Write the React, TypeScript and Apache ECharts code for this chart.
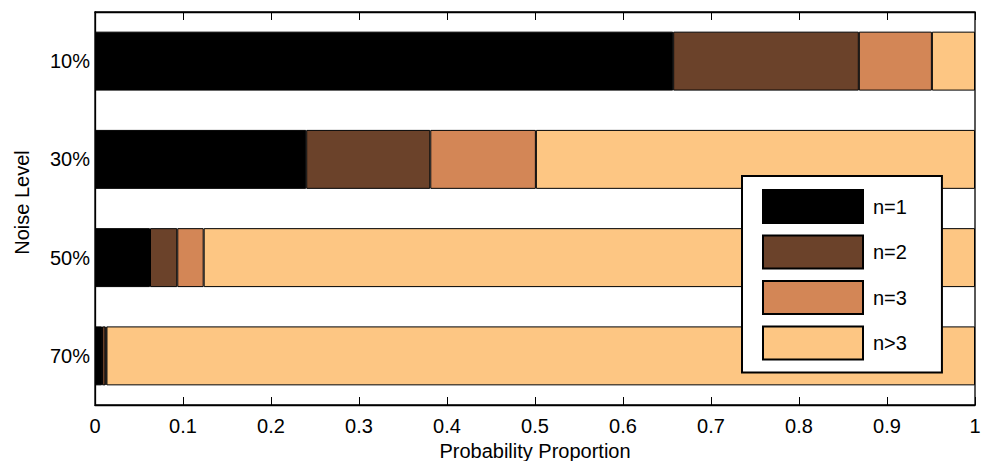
import React, { useEffect, useRef } from "react";
import * as echarts from "echarts";

const categories = ["10%", "30%", "50%", "70%"];
const seriesNames = ["n=1", "n=2", "n=3", "n>3"];
const n1 = [0.657, 0.24, 0.0625, 0.008];
const n2 = [0.211, 0.141, 0.031, 0.004];
const n3 = [0.083, 0.12, 0.03, 0.001];
const nMore = [0.049, 0.499, 0.8765, 0.987];
const colors = ["#000000", "#6b422a", "#d38656", "#fdc683"];
const xTicks = [0, 0.1, 0.2, 0.3, 0.4, 0.5, 0.6, 0.7, 0.8, 0.9, 1];

const FONT = "Liberation Sans, Arial, Helvetica, sans-serif";
const FS = 20;

export default function App() {
  const ref = useRef<HTMLDivElement>(null);
  useEffect(() => {
    if (!ref.current) return;
    const chart = echarts.init(ref.current, null, { renderer: "svg" });
    const data = [n1, n2, n3, nMore];
    chart.setOption({
      animation: false,
      textStyle: { fontFamily: FONT },
      grid: {
        left: 95,
        right: 12,
        top: 12,
        bottom: 56,
        outerBoundsMode: "none",
        containLabel: false,
        show: true,
        borderColor: "#000",
        borderWidth: 1.3,
        backgroundColor: "transparent",
      },
      legend: {
        orient: "vertical",
        left: 742,
        top: 176,
        data: seriesNames,
        itemWidth: 100,
        itemHeight: 33,
        itemGap: 10.5,
        padding: [13, 35, 12, 20],
        borderColor: "#000",
        borderWidth: 2,
        backgroundColor: "#fff",
        icon: "rect",
        textStyle: { fontSize: FS, color: "#000", fontFamily: FONT, padding: [0, 0, 0, 5] },
      },
      xAxis: [
        {
          type: "value",
          min: 0,
          max: 1,
          interval: 0.1,
          position: "bottom",
          name: "Probability Proportion",
          nameLocation: "middle",
          nameGap: 32,
          nameTextStyle: { fontSize: FS, color: "#000", fontFamily: FONT },
          axisLine: { show: true, lineStyle: { color: "#000", width: 1.3 } },
          axisTick: { show: true, inside: true, length: 8, lineStyle: { color: "#000" } },
          axisLabel: {
            fontSize: FS,
            color: "#000",
            margin: 11,
            fontFamily: FONT,
            formatter: (v: number) => {
              const t = xTicks.find((x) => Math.abs(x - v) < 1e-9);
              return t === undefined ? "" : String(t);
            },
          },
          splitLine: { show: false },
        },
        {
          type: "value",
          min: 0,
          max: 1,
          interval: 0.1,
          position: "top",
          axisLine: { show: true, lineStyle: { color: "#000", width: 1.3 } },
          axisTick: { show: true, inside: true, length: 8, lineStyle: { color: "#000" } },
          axisLabel: { show: false },
          splitLine: { show: false },
        },
      ],
      yAxis: {
        type: "category",
        data: categories,
        inverse: true,
        name: "Noise Level",
        nameLocation: "middle",
        nameGap: 63,
        nameTextStyle: {
          fontSize: FS,
          color: "#000",
          fontFamily: FONT,
          padding: [0, 0, 0, 12],
        },
        axisLine: { show: true, lineStyle: { color: "#000", width: 1.3 } },
        axisTick: { show: false },
        axisLabel: { fontSize: FS, color: "#000", margin: 5, fontFamily: FONT },
        splitLine: { show: false },
      },
      series: seriesNames.map((name, i) => ({
        name,
        type: "bar",
        stack: "total",
        barWidth: "60%",
        data: data[i],
        itemStyle: { color: colors[i], borderColor: "#000", borderWidth: 1 },
        emphasis: { disabled: true },
      })),
    });
    return () => chart.dispose();
  }, []);
  return (
    <div
      ref={ref}
      style={{ position: "absolute", left: 0, top: 0, width: 987, height: 461 }}
    />
  );
}
